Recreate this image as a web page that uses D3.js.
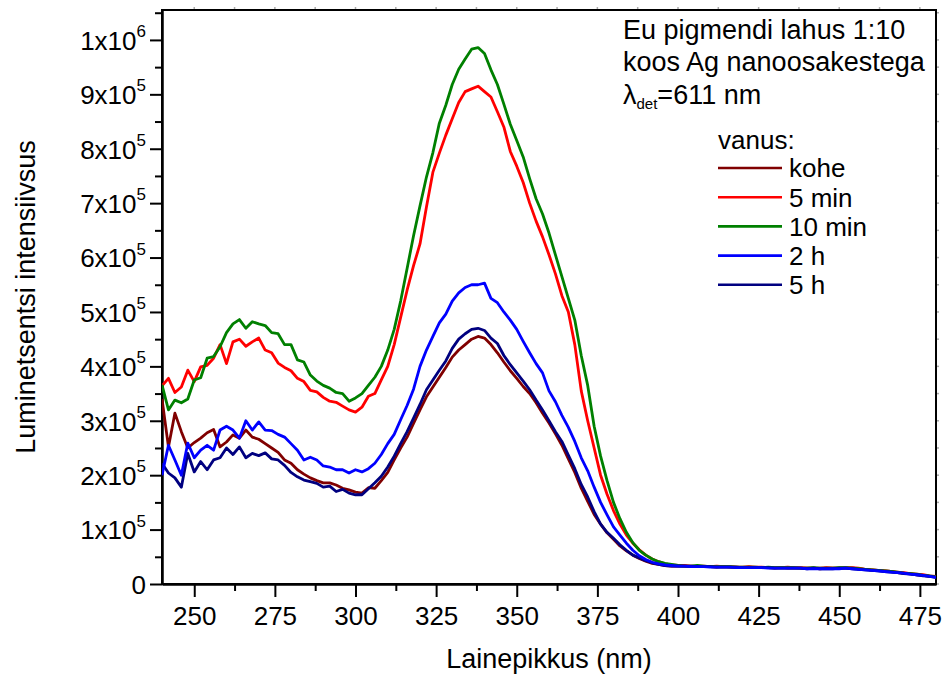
<!DOCTYPE html>
<html>
<head>
<meta charset="utf-8">
<script src="https://cdn.jsdelivr.net/npm/d3@7"></script>
<style>
  body { margin: 0; background: #fff; }
  text { font-family: "Liberation Sans", Arial, sans-serif; fill: #000; }
</style>
</head>
<body>
<div id="chart"></div>
<script>
// wavelength grid (nm), 2 nm step
const wavelengths = d3.range(240, 481, 2);

// luminescence intensity, in units of 1000 counts
const kohe = [
  340,252,314,280,250,260,268,278,284,252,
  261,274,268,283,270,266,258,250,242,228,
  222,210,202,195,190,186,186,182,176,173,
  169,167,177,176,190,205,228,250,270,295,
  320,344,362,380,398,417,430,440,450,455,
  452,440,425,408,392,378,363,350,333,314,
  296,276,255,230,205,176,152,128,110,94,
  82,70,61,53,47,42,38,36,34,33,
  33,33,32,33,32,32,31,32,31,31,30,31,30,30,30,29,30,29,29,29,
  29,29,28,29,29,29,29,29,28,27,26,25,24,23,21,20,19,17,16,14,13
];
const min5 = [
  364,378,352,362,393,372,399,402,415,440,
  405,445,450,437,445,452,430,425,406,398,
  392,378,372,356,353,343,336,334,327,320,
  316,325,345,350,375,400,440,490,540,585,
  625,693,757,792,825,855,885,905,910,915,
  905,895,868,840,795,768,738,700,667,638,
  605,570,530,500,440,355,300,250,200,165,
  135,110,90,75,63,53,46,41,37,35,
  34,34,33,33,33,32,33,32,32,31,31,32,31,31,30,30,30,31,30,30,
  29,29,29,30,29,29,30,30,29,27,26,25,24,23,22,21,19,18,17,15,14
];
const min10 = [
  366,320,338,333,340,375,379,415,418,436,
  462,478,486,470,482,478,475,462,460,440,
  440,412,408,384,373,365,360,352,350,336,
  342,350,365,380,400,430,468,520,580,640,
  695,748,793,847,880,918,946,965,983,986,
  975,945,918,882,845,815,785,745,708,680,
  645,605,565,525,485,420,365,290,235,190,
  150,120,95,76,62,53,46,41,38,36,
  34,33,33,34,33,32,32,32,32,31,31,31,31,30,31,30,30,30,30,29,
  29,30,29,29,29,30,30,29,28,27,26,25,24,23,22,20,19,18,16,15,13
];
const h2 = [
  200,255,228,200,259,232,246,255,246,283,
  290,283,268,300,283,298,283,282,275,270,
  258,246,228,233,228,217,215,210,210,204,
  210,206,212,222,238,258,275,302,328,358,
  400,430,455,480,496,520,535,545,550,550,
  553,525,517,500,485,468,446,425,405,388,
  355,335,310,288,262,232,208,178,150,127,
  105,90,75,62,52,45,40,37,35,34,
  33,33,32,32,32,31,31,31,31,30,30,30,30,30,29,29,29,29,29,29,
  28,28,28,28,28,28,29,28,27,26,25,24,23,22,21,20,18,17,16,14,12
];
const h5 = [
  222,204,195,178,240,206,225,210,228,232,
  250,238,252,232,240,236,241,230,228,218,
  205,197,191,188,185,178,180,170,174,167,
  164,164,175,186,198,215,235,258,280,305,
  330,357,375,393,410,433,450,460,468,470,
  466,452,442,420,403,388,373,357,338,320,
  300,280,262,237,212,183,160,133,110,95,
  84,72,62,53,48,43,39,36,34,33,
  33,33,33,32,32,32,31,31,31,31,30,30,30,30,30,29,29,29,29,29,
  28,29,28,28,28,29,29,28,27,26,25,24,23,22,21,19,18,17,15,14,12
];

const seriesNames = ["kohe", "5 min", "10 min", "2 h", "5 h"];
const seriesValues = [kohe, min5, min10, h2, h5];
const seriesColors = ["#800000", "#ff0000", "#008000", "#0000ff", "#000080"];
const drawOrder = [0, 1, 2, 4, 3];

const xTicks = [250, 275, 300, 325, 350, 375, 400, 425, 450, 475];
const yTicks = [0, 100, 200, 300, 400, 500, 600, 700, 800, 900, 1000];
const noteLines = ["Eu pigmendi lahus 1:10", "koos Ag nanoosakestega"];

const W = 950, H = 680;
const margin = { top: 10, right: 14, bottom: 96, left: 162 };
const width = W - margin.left - margin.right;
const height = H - margin.top - margin.bottom;

const svg = d3.select("#chart").append("svg")
  .attr("width", W)
  .attr("height", H);

const g = svg.append("g")
  .attr("transform", "translate(" + margin.left + "," + margin.top + ")");

const x = d3.scaleLinear().domain([240, 480]).range([0, width]);
const y = d3.scaleLinear().domain([0, 1055]).range([height, 0]);

// clip so the lines stay in the frame
g.append("clipPath").attr("id", "clip")
  .append("rect").attr("width", width).attr("height", height);

// minor ticks halfway between the majors
const xMinor = xTicks.map(t => t + 12.5).filter(t => t > 240 && t < 480);
const yMinor = yTicks.map(t => t + 50).filter(t => t < 1055);

// faint ticks on top and right edges
g.append("g").selectAll("line")
  .data(xTicks.concat(xMinor))
  .join("line")
  .attr("x1", d => x(d)).attr("x2", d => x(d))
  .attr("y1", 0).attr("y2", -3)
  .attr("stroke", "#aaa").attr("stroke-width", 1.5);
g.append("g").selectAll("line")
  .data(yTicks.concat(yMinor))
  .join("line")
  .attr("x1", width).attr("x2", width + 3)
  .attr("y1", d => y(d)).attr("y2", d => y(d))
  .attr("stroke", "#aaa").attr("stroke-width", 1.5);

// frame
g.append("rect")
  .attr("width", width).attr("height", height)
  .attr("fill", "none").attr("stroke", "#000").attr("stroke-width", 2);

// x axis
const xAxis = g.append("g")
  .attr("transform", "translate(0," + height + ")")
  .call(d3.axisBottom(x).tickValues(xTicks).tickSize(13).tickSizeOuter(0).tickPadding(6).tickFormat(d3.format("d")));
g.append("g")
  .attr("transform", "translate(0," + height + ")")
  .call(d3.axisBottom(x).tickValues(xMinor).tickSize(7).tickSizeOuter(0).tickFormat(""));

// y axis
const yAxis = g.append("g")
  .call(d3.axisLeft(y).tickValues(yTicks).tickSize(12).tickSizeOuter(0).tickPadding(4).tickFormat(""));
g.append("g")
  .call(d3.axisLeft(y).tickValues(yMinor).tickSize(7).tickSizeOuter(0).tickFormat(""));

g.selectAll(".domain").attr("stroke", "#000").attr("stroke-width", 2);
g.selectAll(".tick line").attr("stroke", "#000").attr("stroke-width", 2);

xAxis.selectAll(".tick text")
  .attr("font-size", 26)
  .attr("dy", "0.85em")
  .style("font-family", "Liberation Sans, Arial, sans-serif");

// y tick labels with superscript exponents
yAxis.selectAll(".tick").each(function (d) {
  const t = d3.select(this).append("text")
    .attr("x", -16)
    .attr("dy", "0.36em")
    .attr("text-anchor", "end")
    .attr("font-size", 26);
  if (d === 0) {
    t.text("0");
  } else {
    const exp = d >= 1000 ? 6 : 5;
    const mant = d >= 1000 ? d / 1000 : d / 100;
    t.append("tspan").text(mant + "x10");
    t.append("tspan").attr("font-size", 17).attr("dy", "-0.75em").text(exp);
  }
});

// lines
const line = d3.line()
  .x((d, i) => x(wavelengths[i]))
  .y(d => y(d));

g.append("g").attr("clip-path", "url(#clip)")
  .selectAll("path")
  .data(drawOrder)
  .join("path")
  .attr("d", k => line(seriesValues[k]))
  .attr("fill", "none")
  .attr("stroke", k => seriesColors[k])
  .attr("stroke-width", 2.8)
  .attr("stroke-linejoin", "round");

// axis titles
svg.append("text")
  .attr("x", margin.left + width / 2)
  .attr("y", 668)
  .attr("text-anchor", "middle")
  .attr("font-size", 27)
  .text("Lainepikkus (nm)");

svg.append("text")
  .attr("transform", "translate(35," + (margin.top + height / 2) + ") rotate(-90)")
  .attr("text-anchor", "middle")
  .attr("font-size", 27)
  .text("Luminetsentsi intensiivsus");

// note text top right
const note = svg.append("g");
note.selectAll("text.note")
  .data(noteLines)
  .join("text")
  .attr("class", "note")
  .attr("x", 623)
  .attr("y", (d, i) => 39 + i * 32)
  .attr("font-size", 27)
  .text(d => d);

const lam = note.append("text").attr("x", 623).attr("y", 104).attr("font-size", 27);
lam.append("tspan").text("\u03bb");
lam.append("tspan").attr("font-size", 15).attr("dy", 5).text("det");
lam.append("tspan").attr("dy", -5).text("=611 nm");

// legend
const legend = svg.append("g");
legend.append("text").attr("x", 718).attr("y", 149).attr("font-size", 26).text("vanus:");

const items = legend.selectAll("g.item")
  .data(seriesNames)
  .join("g")
  .attr("class", "item")
  .attr("transform", (d, i) => "translate(718," + (168 + i * 29.2) + ")");

items.append("line")
  .attr("x1", 0).attr("x2", 64)
  .attr("stroke", (d, i) => seriesColors[i])
  .attr("stroke-width", 2.6);

items.append("text")
  .attr("x", 71)
  .attr("dy", "0.36em")
  .attr("font-size", 26)
  .text(d => d);
</script>
</body>
</html>
